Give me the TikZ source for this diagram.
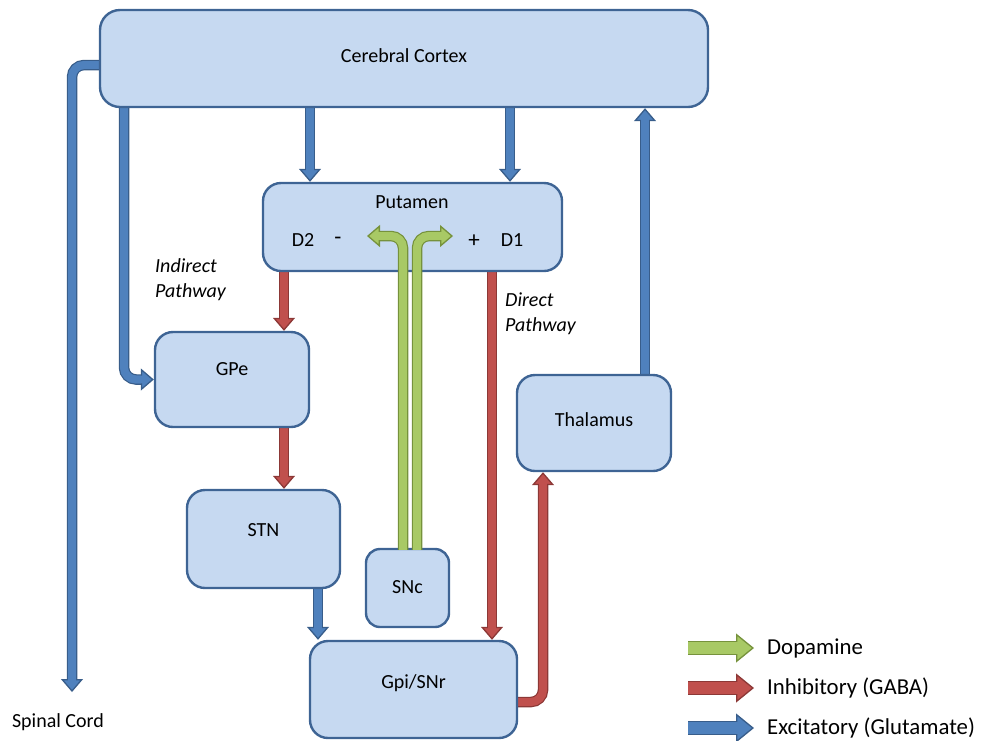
\documentclass[tikz,border=0pt]{standalone}
\usepackage{fontspec}
\setmainfont{Carlito}
\usetikzlibrary{arrows.meta,calc}
\pgfdeclarelayer{bg}
\pgfsetlayers{bg,main}
\definecolor{boxfill}{HTML}{C6D9F1}
\definecolor{boxline}{HTML}{3E6494}
\definecolor{bluefill}{HTML}{4F81BD}
\definecolor{bluedark}{HTML}{385D8A}
\definecolor{redfill}{HTML}{C0504D}
\definecolor{reddark}{HTML}{8C3836}
\definecolor{greenfill}{HTML}{A8C965}
\definecolor{greendark}{HTML}{76923C}
\begin{document}
\begin{tikzpicture}[x=1pt,y=-1pt,
  font=\fontsize{20}{24}\selectfont,
  box/.style={draw=boxline, fill=boxfill, line width=2.4pt, rounded corners=18pt, inner sep=0pt},
  lbl/.style={inner sep=0pt},
  conn/.style 2 args={draw=#2, line width=1pt, rounded corners=12pt,
    -{Triangle[length=13pt,width=22pt,fill=#2,color=#1,line width=1.3pt]},
    preaction={draw=#1, line width=10.5pt, shorten >=12pt, arrows=-},
    preaction={draw=#2, line width=7.8pt, shorten >=11pt, arrows=-},
    postaction={draw=#2, line width=7.8pt, shorten >=9.5pt, arrows=-}},
  legarr/.style 2 args={draw=#2, line width=1pt,
    -{Triangle[length=18pt,width=29pt,fill=#2,color=#1,line width=1.3pt]},
    preaction={draw=#1, line width=14pt, shorten >=17pt, arrows=-},
    preaction={draw=#2, line width=11.4pt, shorten >=16pt, arrows=-},
    postaction={draw=#2, line width=11.4pt, shorten >=14pt, arrows=-}},
  blue/.style={conn={bluedark}{bluefill}},
  red/.style={conn={reddark}{redfill}},
  green/.style={conn={greendark}{greenfill}}]
\useasboundingbox (0,0) rectangle (981,740);

% boxes
\node[box, rounded corners=20pt, minimum width=608pt, minimum height=97pt,
      label={[lbl,name=cortext,yshift=2.5pt]center:Cerebral Cortex}] (cortex) at (404,58.5) {};
\node[box, minimum width=299pt, minimum height=88pt] (putamen) at (412.5,227) {};
\node[box, minimum width=154pt, minimum height=95pt,
      label={[lbl,name=gpetext,yshift=10pt]center:GPe}] (gpe) at (232,379.5) {};
\node[box, minimum width=153pt, minimum height=98pt,
      label={[lbl,name=stntext,yshift=9pt]center:STN}] (stn) at (263.5,539) {};
\node[box, rounded corners=14pt, minimum width=83pt, minimum height=78pt,
      label={[lbl,name=snctext,yshift=1pt]center:SNc}] (snc) at (407.5,588) {};
\node[box, minimum width=207pt, minimum height=97pt,
      label={[lbl,name=gpitext,yshift=6.5pt]center:Gpi/SNr}] (gpi) at (413.5,689.5) {};
\node[box, minimum width=154pt, minimum height=96pt,
      label={[lbl,name=thaltext,yshift=3pt]center:Thalamus}] (thal) at (594,423) {};

% putamen texts
\node[lbl] (puttext) at (412,202) {Putamen};
\node[lbl] (d2) at (303,240) {D2};
\node[lbl, font=\fontsize{23}{26}\selectfont] (minus) at (338,241) {-};
\node[lbl, font=\fontsize{23}{26}\selectfont] (plus) at (474,241) {+};
\node[lbl] (d1) at (512,240) {D1};

% other texts
\node[lbl, font=\fontsize{20}{25}\selectfont\itshape, align=left, anchor=west] (indirect) at (155,280) {Indirect\\Pathway};
\node[lbl, font=\fontsize{20}{25}\selectfont\itshape, align=left, anchor=west] (direct) at (505,313.5) {Direct\\Pathway};
\node[lbl] (spinal) at (58,722) {Spinal Cord};

% helper coordinates
\coordinate (p1) at ([xshift=-102.5pt]putamen.north);
\coordinate (p2) at ([xshift=97.5pt]putamen.north);
\coordinate (cg) at (124,0);
\coordinate (sp1) at ([yshift=-6.5pt,xshift=3pt]cortex.west);
\coordinate (spend) at (72,692);
\coordinate (t1) at ([xshift=51pt]thal.north);
\coordinate (g1) at ([xshift=52pt]gpe.north);
\coordinate (s1) at ([xshift=54.5pt]stn.south);
\coordinate (dd) at ([xshift=78.5pt]gpi.north);
\coordinate (gs) at ([yshift=-12.5pt,xshift=-3pt]gpi.east);
\coordinate (h1) at ([xshift=-51pt]thal.south);
\coordinate (n1) at ([xshift=-4.5pt]snc.north);
\coordinate (n2) at ([xshift=9.5pt]snc.north);
\coordinate (gl) at (367,236);
\coordinate (gr) at (453,236);

\begin{pgfonlayer}{bg}
\draw[blue] ([yshift=3pt]p1 |- cortex.south) -- (p1);
\draw[blue] ([yshift=3pt]p2 |- cortex.south) -- (p2);
\draw[blue] ([yshift=6pt]cg |- cortex.south) -- (cg |- gpe.west) -- (gpe.west);
\draw[blue] (sp1) -- (sp1 -| spend) -- (spend);
\draw[blue] ([yshift=-3pt]t1) -- (t1 |- cortex.south);
\draw[red] ([yshift=3pt]g1 |- putamen.south) -- (g1);
\draw[red] ([yshift=3pt]g1 |- gpe.south) -- (g1 |- stn.north);
\draw[blue] ([yshift=3pt]s1) -- (s1 |- gpi.north);
\draw[red] ([yshift=3pt]dd |- putamen.south) -- (dd);
\draw[red] (gs) -- (gs -| h1) -- (h1);
\end{pgfonlayer}

% dopamine arrows
\draw[green] ([yshift=-2pt]n1) -- (n1 |- gl) -- (gl);
\draw[green] ([yshift=-2pt]n2) -- (n2 |- gr) -- (gr);

% legend
\coordinate (la1) at (688,648);
\coordinate (lb1) at (754,648);
\coordinate (la2) at (688,688);
\coordinate (lb2) at (754,688);
\coordinate (la3) at (688,728);
\coordinate (lb3) at (754,728);
\draw[legarr={greendark}{greenfill}] (la1) -- (lb1);
\draw[legarr={reddark}{redfill}] (la2) -- (lb2);
\draw[legarr={bluedark}{bluefill}] (la3) -- (lb3);
\node[lbl, anchor=west, font=\fontsize{22.8}{26}\selectfont] (legd) at (767,648) {Dopamine};
\node[lbl, anchor=west, font=\fontsize{22.8}{26}\selectfont] (legi) at (767,688) {Inhibitory (GABA)};
\node[lbl, anchor=west, font=\fontsize{22.8}{26}\selectfont] (lege) at (767,728) {Excitatory (Glutamate)};
\end{tikzpicture}
\end{document}
